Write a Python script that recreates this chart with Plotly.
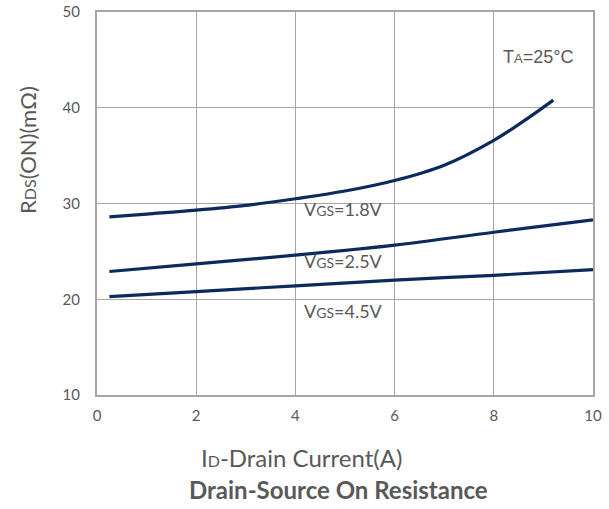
import plotly.graph_objects as go

# Data
id_18 = [0.25, 1, 2, 3, 4, 5, 6, 7, 8, 8.6, 9.2]
r_18 = [28.6, 28.9, 29.3, 29.8, 30.5, 31.3, 32.4, 34.0, 36.6, 38.6, 40.8]

id_25 = [0.25, 2, 4, 6, 8, 10]
r_25 = [22.9, 23.7, 24.6, 25.65, 27.0, 28.3]

id_45 = [0.25, 2, 4, 6, 8, 10]
r_45 = [20.27, 20.8, 21.4, 22.0, 22.5, 23.1]

x_ticks = [0, 2, 4, 6, 8, 10]
y_ticks = [10, 20, 30, 40, 50]

line_color = "#0b2a5e"
grid_color = "#a6a6a6"
text_color = "#595959"
font_family = "Lato, Open Sans, sans-serif"

fig = go.Figure()
for xs, ys in [(id_18, r_18), (id_25, r_25), (id_45, r_45)]:
    fig.add_trace(go.Scatter(x=xs, y=ys, mode="lines",
                             line=dict(color=line_color, width=3.2, shape="spline"),
                             showlegend=False, hoverinfo="skip"))

ann_font = dict(family=font_family, size=18, color=text_color)
sub = "<span style='font-size:{}px'>{}</span>"
fig.add_annotation(x=4.96, y=29.4, text="V" + sub.format(14, "GS") + "=1.8V", showarrow=False, font=ann_font, xanchor="center", yanchor="middle")
fig.add_annotation(x=4.96, y=24.0, text="V" + sub.format(14, "GS") + "=2.5V", showarrow=False, font=ann_font, xanchor="center", yanchor="middle")
fig.add_annotation(x=4.96, y=18.8, text="V" + sub.format(14, "GS") + "=4.5V", showarrow=False, font=ann_font, xanchor="center", yanchor="middle")
fig.add_annotation(x=8.89, y=45.3, text="T" + sub.format(13, "A") + "=25°C", showarrow=False,
                   font=dict(family="Liberation Sans, Arial, sans-serif", size=18, color=text_color),
                   xanchor="center", yanchor="middle")

fig.add_annotation(xref="paper", yref="paper", x=0.413, y=-0.164,
                   text="I" + sub.format(16, "D") + "-Drain Current(A)",
                   showarrow=False, font=dict(family=font_family, size=24, color=text_color),
                   xanchor="center", yanchor="middle")
fig.add_annotation(xref="paper", yref="paper", x=0.486, y=-0.248,
                   text="<b>Drain-Source On Resistance</b>",
                   showarrow=False, font=dict(family=font_family, size=24, color=text_color),
                   xanchor="center", yanchor="middle")
fig.add_annotation(xref="paper", yref="paper", x=-0.139, y=0.64, textangle=-90,
                   text="R" + sub.format(16, "DS") + "(ON)(mΩ)",
                   showarrow=False, font=dict(family=font_family, size=22, color=text_color),
                   xanchor="center", yanchor="middle")

fig.update_xaxes(range=[0, 10], tickvals=x_ticks, showgrid=True, gridcolor=grid_color, gridwidth=1,
                 showline=True, linecolor=grid_color, linewidth=2, mirror=True, zeroline=False,
                 ticks="", tickfont=dict(family=font_family, size=15, color=text_color), ticklabelstandoff=6)
fig.update_yaxes(range=[10, 50], tickvals=y_ticks, showgrid=True, gridcolor=grid_color, gridwidth=1,
                 showline=True, linecolor=grid_color, linewidth=2, mirror=True, zeroline=False,
                 ticks="", tickfont=dict(family=font_family, size=15, color=text_color), ticklabelstandoff=12)

fig.update_layout(width=609, height=509, margin=dict(l=97, r=16, t=12, b=114, autoexpand=False),
                  plot_bgcolor="white", paper_bgcolor="white")

fig.write_html("out.html", config={"displayModeBar": False})
with open("out.html", "r", encoding="utf-8") as f:
    html = f.read()
html = html.replace("<body>", "<body style=\"margin:0;overflow:hidden\">", 1)
with open("out.html", "w", encoding="utf-8") as f:
    f.write(html)
